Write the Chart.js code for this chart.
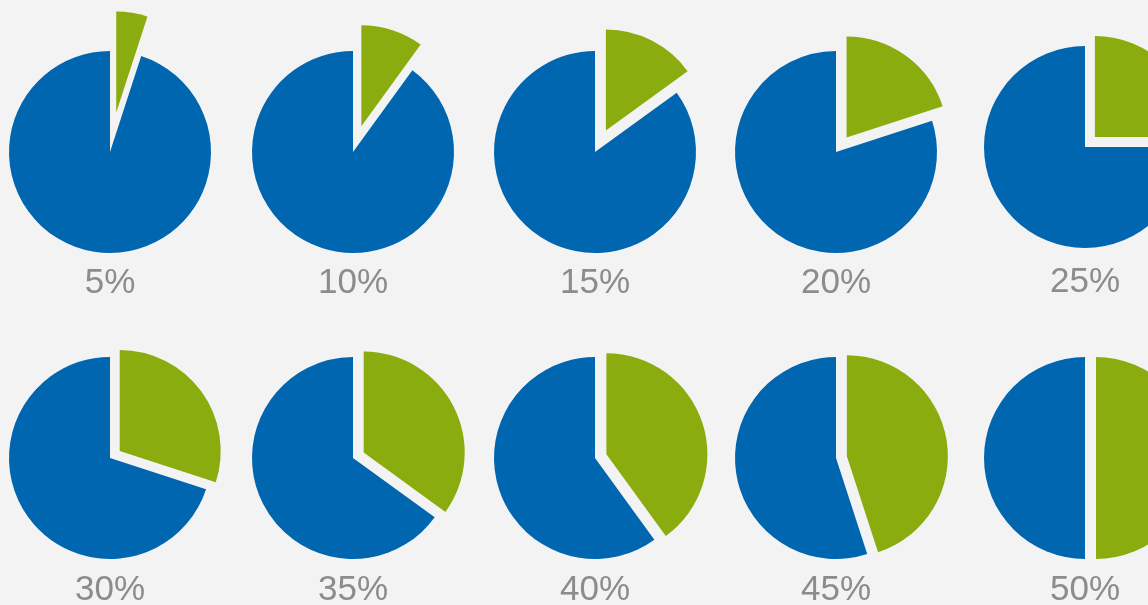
<!DOCTYPE html>
<html>
<head>
<meta charset="utf-8">
<title>Share steps</title>
<script src="https://cdn.jsdelivr.net/npm/chart.js@4.4.1/dist/chart.umd.min.js"></script>
<style>
  html, body { margin: 0; padding: 0; }
  body {
    width: 1148px; height: 605px; overflow: hidden; position: relative;
    background: #f3f3f3;
    font-family: 'Liberation Sans', Arial, sans-serif;
  }
  .pie { position: absolute; }
  .pie-label {
    position: absolute; transform: translate(-50%, -50%);
    font-size: 35px; line-height: 1; color: #8c8c8c; white-space: nowrap;
  }
</style>
</head>
<body>
<script>
  // one pie per step, green slice = share
  const labels = ['5%', '10%', '15%', '20%', '25%', '30%', '35%', '40%', '45%', '50%'];
  const greenShare = [5, 10, 15, 20, 25, 30, 35, 40, 45, 50];
  const blueShare = [95, 90, 85, 80, 75, 70, 65, 60, 55, 50];

  // how far the green slice is pulled out (px)
  const explode = [40, 27, 24, 18, 14, 12, 12, 12, 11, 11];

  // pie centres and label heights
  const COLS = [110, 353, 595, 836, 1085];
  const PIE_Y = [152, 152, 152, 152, 146.5, 457.5, 457.5, 457.5, 457.5, 457.5];
  const LABEL_Y = [280, 280, 280, 280, 278.5, 587, 587, 587, 587, 587];
  const RADIUS = 101;
  const BOX = 300;
  const GREEN = '#8bac0f';
  const BLUE = '#0066b0';

  // shift the first arc outwards along its middle angle
  const explodePlugin = {
    id: 'explode',
    afterDatasetsUpdate(chart, args, opts) {
      const arc = chart.getDatasetMeta(0).data[0];
      if (!arc) return;
      const mid = (arc.startAngle + arc.endAngle) / 2;
      arc.x += Math.cos(mid) * opts.distance;
      arc.y += Math.sin(mid) * opts.distance;
    }
  };

  labels.forEach((label, i) => {
    const cx = COLS[i % 5];
    const cy = PIE_Y[i];

    const canvas = document.createElement('canvas');
    canvas.className = 'pie';
    canvas.width = BOX;
    canvas.height = BOX;
    canvas.style.left = (cx - BOX / 2) + 'px';
    canvas.style.top = (cy - BOX / 2) + 'px';
    document.body.appendChild(canvas);

    const text = document.createElement('div');
    text.className = 'pie-label';
    text.textContent = label;
    text.style.left = cx + 'px';
    text.style.top = LABEL_Y[i] + 'px';
    document.body.appendChild(text);

    new Chart(canvas.getContext('2d'), {
      type: 'pie',
      data: {
        labels: ['share', 'rest'],
        datasets: [{
          data: [greenShare[i], blueShare[i]],
          backgroundColor: [GREEN, BLUE],
          borderWidth: 0
        }]
      },
      options: {
        responsive: false,
        animation: false,
        radius: RADIUS,
        layout: { padding: 0 },
        events: [],
        plugins: {
          legend: { display: false },
          tooltip: { enabled: false },
          explode: { distance: explode[i] }
        }
      },
      plugins: [explodePlugin]
    });
  });
</script>
</body>
</html>
